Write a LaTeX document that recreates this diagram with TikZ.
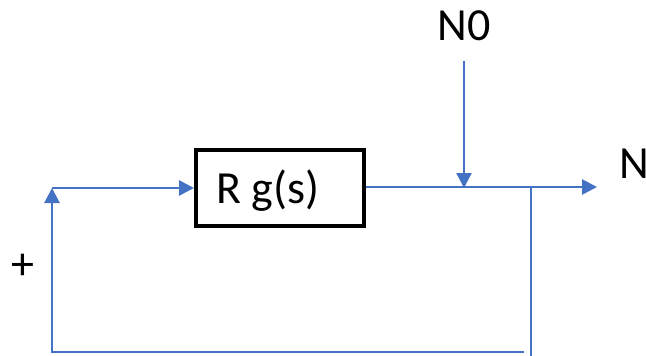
\documentclass[tikz,border=0pt]{standalone}
\usepackage{fontspec}
\setmainfont{Carlito}
\usetikzlibrary{arrows.meta}
\definecolor{lineblue}{HTML}{4472C4}
\begin{document}
\begin{tikzpicture}[x=1pt,y=-1pt,
  bigtext/.style={font=\fontsize{46}{50}\selectfont, inner sep=0pt},
  blockbox/.style={draw=black, line width=4pt, minimum width=168pt, minimum height=76pt, inner sep=0pt},
  sig/.style={draw=lineblue, line width=2.8pt, -{Triangle[length=15pt,width=15pt]}},
  thin/.style={draw=lineblue, line width=1.6pt}]
\useasboundingbox (0,0) rectangle (646,356);
\node[blockbox] (box) at (280,188) {};
\node[bigtext, anchor=base] (boxlabel) at (268,203) {R g(s)};
\node[bigtext, anchor=base] (n0) at (464,40) {N0};
\node[bigtext, anchor=base west] (nout) at (619,178) {N};
\node[bigtext] (plus) at (23,267) {+};
\coordinate (inL) at (52,188);
\coordinate (j) at (464,188);
\coordinate (out) at (597,187);
\coordinate (tap) at (531,188);
\coordinate (tapB) at (531,356);
\coordinate (botR) at (524,352);
\coordinate (botL) at (52,352);
\draw[sig] (inL) -- (box.west);
\draw[sig] (box.east |- out) -- (out);
\draw[sig, line width=2.4pt, shorten <=20pt] (n0.south) -- (j);
\draw[thin] (tap) -- (tapB);
\draw[thin] (botR) -- (botL);
\draw[sig] (botL) ++(0,1) -- (inL);
\end{tikzpicture}
\end{document}
